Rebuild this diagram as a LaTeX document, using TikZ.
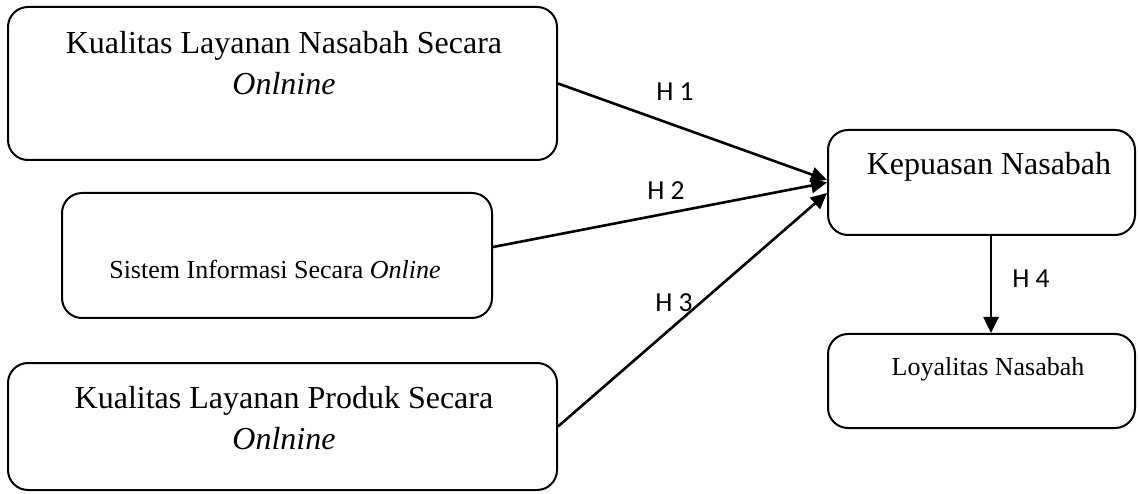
\documentclass[tikz,border=0pt]{standalone}
\usepackage{fontspec}
\setmainfont{Liberation Serif}
\newfontfamily\labelfont{Carlito}
\usetikzlibrary{arrows.meta}
\begin{document}
\begin{tikzpicture}[x=1pt,y=-1pt,
  box/.style={draw=black, line width=2pt, rounded corners=20pt, inner sep=0pt},
  big/.style={font=\fontsize{32}{41}\selectfont, inner sep=0pt, align=center},
  small/.style={font=\fontsize{26}{31}\selectfont, inner sep=0pt},
  hlab/.style={font=\labelfont\fontsize{27.5}{32}\selectfont, inner sep=0pt},
  arr/.style={line width=2.6pt, -{Triangle[length=16pt,width=15pt]}}]
\useasboundingbox (0,0) rectangle (1138,494);
% boxes
\node[box, minimum width=549pt, minimum height=153pt] (b1) at (282.5,83.5) {};
\node[box, minimum width=430pt, minimum height=125pt] (b2) at (277,255.5) {};
\node[box, minimum width=549pt, minimum height=127pt] (b3) at (282.5,426.5) {};
\node[box, minimum width=307pt, minimum height=105pt] (k) at (981.5,182.5) {};
\node[box, minimum width=307pt, minimum height=94pt] (l) at (981.5,381) {};
% texts
\node[big] (t1) at (284,63.5) {Kualitas Layanan Nasabah Secara\\\textit{Onlnine}};
\node[small, anchor=base] (t2) at (275,279) {Sistem Informasi Secara \textit{Online}};
\node[big] (t3) at (284,418) {Kualitas Layanan Produk Secara\\\textit{Onlnine}};
\node[big, anchor=base] (tk) at (989,175) {Kepuasan Nasabah};
\node[small, anchor=base] (tl) at (988,375) {Loyalitas Nasabah};
% connectors
\draw[arr] (b1.east) -- ([yshift=2.5pt]k.west);
\draw[arr] ([yshift=8.5pt]b2.east) -- (k.west);
\draw[arr] (b3.east) -- ([yshift=-10.5pt]k.west);
\draw[arr] ([xshift=9.5pt]k.south) -- ([xshift=9.5pt]l.north);
% labels
\node[hlab] (h1) at (675,92) {H 1};
\node[hlab] (h2) at (666,191) {H 2};
\node[hlab] (h3) at (674,303) {H 3};
\node[hlab] (h4) at (1031,279) {H 4};
\end{tikzpicture}
\end{document}
